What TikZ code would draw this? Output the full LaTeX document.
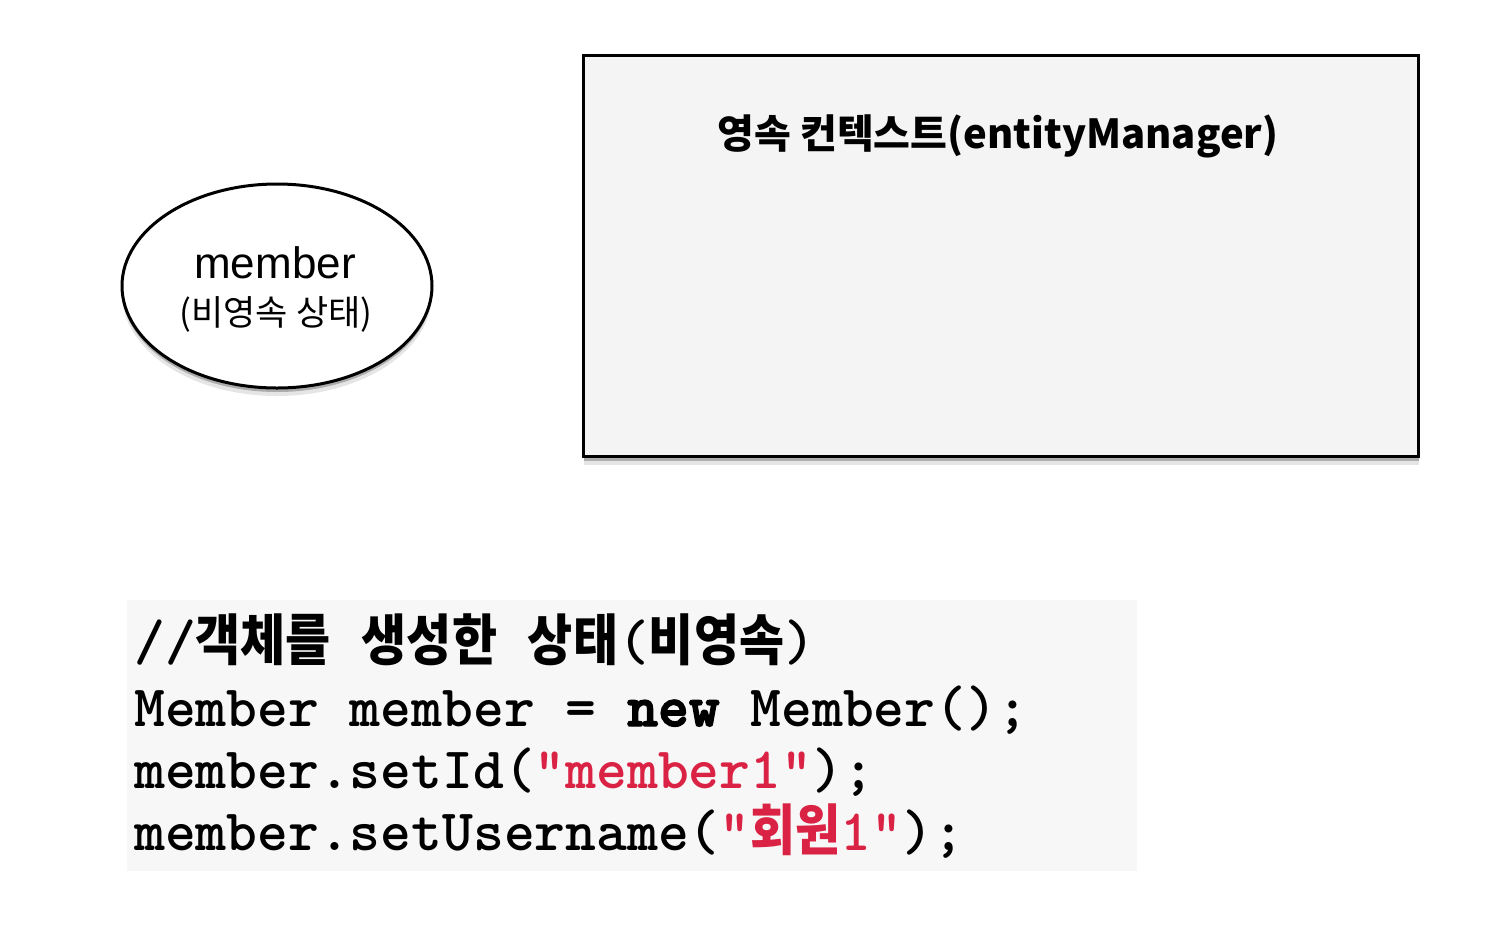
\documentclass[tikz,border=0pt]{standalone}
\usepackage{fontspec}
\setmainfont{Liberation Sans}
\newfontfamily\kr{Noto Sans CJK KR}
\newfontface\heavymono{lmmonolt10-bold.otf}[FakeBold=2.5]
\usetikzlibrary{shadows,shapes.geometric}
\definecolor{boxfill}{HTML}{F4F4F4}
\definecolor{codebg}{HTML}{F7F7F7}
\definecolor{strred}{RGB}{218,35,68}
\newcommand{\codeln}[1]{{\ttfamily\bfseries\fontsize{58.7}{66}\selectfont #1}}
\newcommand{\hg}[1]{\scalebox{1}[1.13]{\kr\bfseries\fontsize{49}{49}\selectfont #1}}
\newcommand{\heavy}[1]{{\heavymono\fontsize{58.7}{66}\selectfont #1}}
\tikzset{
  shadowed/.style={
    drop shadow={shadow xshift=0pt, shadow yshift=-8pt, opacity=0.10, fill=black},
    drop shadow={shadow xshift=0pt, shadow yshift=-4pt, opacity=0.25, fill=black}},
  ctxbox/.style={draw=black, line width=3pt, fill=boxfill, shadowed, inner sep=0},
  entity/.style={ellipse, draw=black, line width=3pt, fill=white, shadowed, inner sep=0},
  codeline/.style={anchor=base west, inner sep=0},
}
\begin{document}
\begin{tikzpicture}[x=1pt, y=-1pt]
\useasboundingbox (0,0) rectangle (1510,938);
% persistence context box
\node[ctxbox, minimum width=835pt, minimum height=401pt, anchor=north west] (ctx) at (582,54) {};
\node[anchor=base, inner sep=0] (ctxtitle) at (998,148)
  {\kr\bfseries\fontsize{40}{40}\selectfont 영속 컨텍스트(entityManager)};
% member entity
\node[entity, minimum width=310pt, minimum height=204pt] (member) at (277,286) {};
\node[anchor=base, inner sep=0] (mname) at (275,278) {\fontsize{44}{44}\selectfont member};
\node[anchor=base, inner sep=0] (mstate) at (276,325) {\kr\fontsize{35}{35}\selectfont (비영속 상태)};
% code block
\fill[codebg] (127,600) rectangle (1137,871);
\node[codeline] (c1) at (134,660) {\codeln{//\hg{객체를} \hg{생성한} \hg{상태}(\hg{비영속})}};
\node[codeline] (c2) at (134,726) {\codeln{Member member = \heavy{new} Member();}};
\node[codeline] (c3) at (134,788) {\codeln{member.setId(\textcolor{strred}{"member1"});}};
\node[codeline] (c4) at (134,850) {\codeln{member.setUsername(\textcolor{strred}{"\hg{회원}1"});}};
\end{tikzpicture}
\end{document}
